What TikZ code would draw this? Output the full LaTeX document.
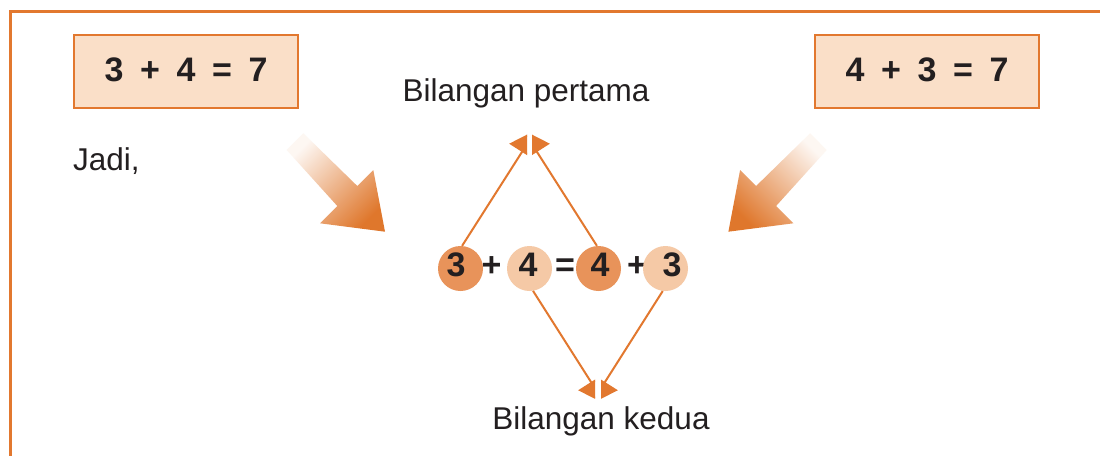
\documentclass[tikz,border=0pt]{standalone}
\usepackage{fontspec}
\setmainfont{Liberation Sans}
\usetikzlibrary{arrows.meta}

\definecolor{lineorange}{HTML}{E2782F}
\definecolor{boxfill}{HTML}{FADFC8}
\definecolor{darkdisc}{HTML}{E8935A}
\definecolor{lightdisc}{HTML}{F5C9A6}
\definecolor{ink}{HTML}{231F20}
\definecolor{arrowtip}{HTML}{DF772C}

% one equation laid out in equally wide cells
\newcommand\sumrow[5]{\makebox[36pt]{#1}\makebox[36pt]{#2}\makebox[36pt]{#3}\makebox[36pt]{#4}\makebox[36pt]{#5}}

\begin{document}
\begin{tikzpicture}[x=1pt,y=-1pt,
  frame/.style={draw=lineorange,line width=3pt},
  sumbox/.style={draw=lineorange,line width=2pt,fill=boxfill,minimum width=224pt,
    minimum height=73pt,inner sep=0pt,text=ink,
    font=\bfseries\fontsize{34}{40}\selectfont,text height=24pt,text depth=5pt},
  disc/.style={circle,minimum size=45pt,inner sep=0pt,text=ink,
    font=\bfseries\fontsize{34}{40}\selectfont,text height=24pt,text depth=8pt},
  darkd/.style={disc,fill=darkdisc},
  lightd/.style={disc,fill=lightdisc},
  op/.style={inner sep=0pt,text=ink,font=\bfseries\fontsize{34}{40}\selectfont,
    text height=24pt,text depth=8pt},
  caption/.style={inner sep=0pt,text=ink,font=\fontsize{31.5}{38}\selectfont},
  link/.style={draw=lineorange,line width=2pt,-{Triangle[length=26pt,width=30pt]}},
  fatarrow/.style={top color=arrowtip!6,middle color=arrowtip!55,bottom color=arrowtip},
]
\useasboundingbox (0,0) rectangle (1100,455);
\fill[white] (0,0) rectangle (1100,455);

% page frame, open towards the right and the bottom
\draw[frame] (10,457) -- (10,11) -- (1102,11);

% the two sums
\node[sumbox] (sumA) at (186,71.5) {\sumrow{3}{+}{4}{=}{7}};
\node[sumbox] (sumB) at (927,71.5) {\sumrow{4}{+}{3}{=}{7}};

\node[caption,anchor=base west] (jadi) at (73,170) {Jadi,};

% broad shaded arrows pointing to the combined equation
\shade[fatarrow,shading angle=45]
  (286.7,150) -- (303.3,133.3) -- (357.3,186) -- (373.3,170) -- (385,231.7)
  -- (320,223.3) -- (337.3,206) -- cycle;
\shade[fatarrow,shading angle=-45]
  (826.7,150) -- (810.1,133.3) -- (756.1,186) -- (740.1,170) -- (728.4,231.7)
  -- (793.4,223.3) -- (776.1,206) -- cycle;

% 3 + 4 = 4 + 3
\node[darkd]  (c1) at (460.5,268.5) {\kern-4.5pt 3\kern4.5pt};
\node[op]     (p1) at (491.5,268.5) {+};
\node[lightd] (c2) at (529.5,268.5) {\kern-1.5pt 4\kern1.5pt};
\node[op]     (eq) at (565,268.5) {=};
\node[darkd]  (c3) at (598.5,268.5) {\kern1.5pt 4\kern-1.5pt};
\node[op]     (p2) at (637,268.5) {+};
\node[lightd] (c4) at (665.5,268.5) {\kern6.5pt 3\kern-6.5pt};

\node[caption,anchor=base] (first) at (526,101) {Bilangan pertama};
\node[caption,anchor=base] (second) at (601,429) {Bilangan kedua};

% arrow ends, the heads are cut by a thin gap between each pair
\coordinate (upL) at (536,130);
\coordinate (upR) at (523,130);
\coordinate (downL) at (605,404);
\coordinate (downR) at (591,404);

\begin{scope}
  \clip (0,0) rectangle (527,455);
  \draw[link] (c1.86) -- (upL);
\end{scope}
\begin{scope}
  \clip (532,0) rectangle (1100,455);
  \draw[link] (c3.94) -- (upR);
\end{scope}
\begin{scope}
  \clip (0,0) rectangle (595,455);
  \draw[link] (c2.-81) -- (downL);
\end{scope}
\begin{scope}
  \clip (601,0) rectangle (1100,455);
  \draw[link] (c4.-97) -- (downR);
\end{scope}
\end{tikzpicture}
\end{document}
